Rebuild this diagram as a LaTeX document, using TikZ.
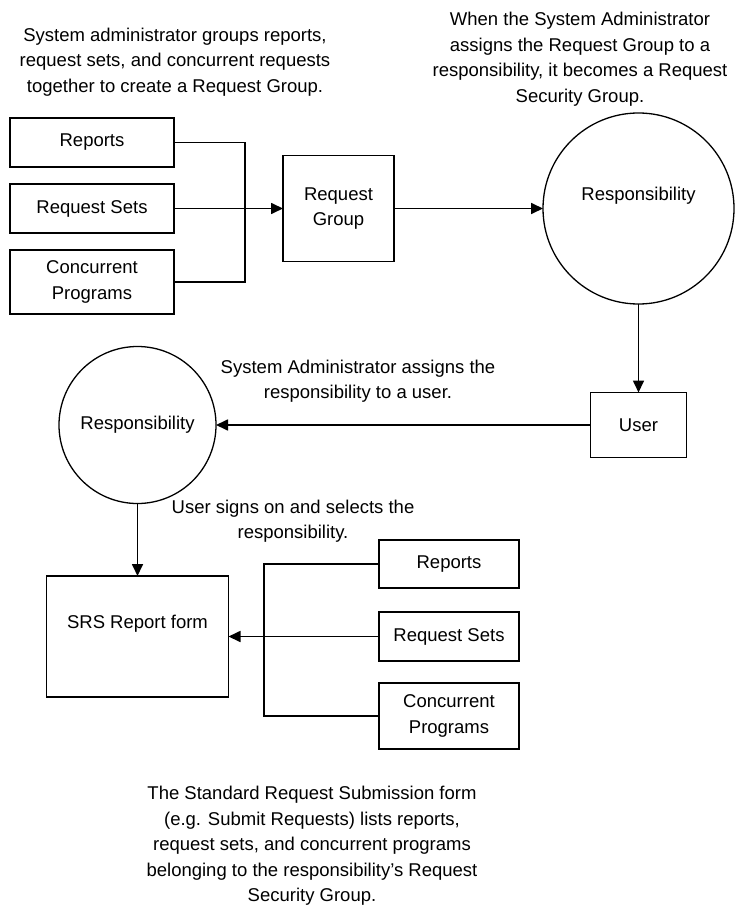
\documentclass[tikz,border=0pt]{standalone}
\usepackage{fontspec}
\setmainfont{Liberation Sans}
\usepackage{tikz}
\usetikzlibrary{positioning}
\usetikzlibrary{arrows.meta}

\begin{document}
\begin{tikzpicture}[x=1pt, y=-1pt, font=\fontsize{18.5}{25.5}\selectfont]

        \def\d{17pt}
        \def\h{24pt}

        % Looks of the boxes, circles, notes and arrows
        \tikzset{
            box/.style={draw, line width=1.7pt, inner sep=0pt, outer sep=0pt,
                minimum width=164pt, minimum height=49pt, align=center},
            smallbox/.style={box, minimum width=140pt},
            ring/.style={draw, circle, line width=1.3pt, inner sep=0pt,
                outer sep=0pt},
            note/.style={align=center, inner sep=0pt},
            arr/.style={-{Triangle[length=12pt, width=11pt]}}
        }

        \useasboundingbox (0,0) rectangle (738,909);

        % Scope with the top row: items grouped into a request group
        \begin{scope}
            \node[box] (rep1) at (92, 142.5) {Reports};
            \node[box] (set1) [below=\d of rep1] {Request Sets};
            \node[box, minimum height=64pt] (con1) [below=\d of set1]
            {Concurrent\\Programs};
            \coordinate (join1) at (245, 208.5);

            \node[box, minimum width=111pt, minimum height=106pt] (group)
            at (338.5, 208.5) {Request\\Group};
            \node[ring, minimum size=191pt, text depth=30pt] (resp1)
            at (638.5, 208.5) {Responsibility};
        \end{scope}

        % Scope with the middle and lower rows
        \begin{scope}
            \node[box, minimum width=96pt, minimum height=65pt] (user)
            at (638.5, 425) {User};
            \node[ring, minimum size=157pt] (resp2)
            at (137.5, 425) {Responsibility};
            \node[box, minimum width=182pt, minimum height=121pt,
                text depth=30pt] (srs) at (137.5, 636.5) {SRS Report form};

            \node[smallbox, minimum height=48pt] (rep2) at (449, 564)
            {Reports};
            \node[smallbox] (set2) [below=\h of rep2] {Request Sets};
            \node[smallbox, minimum height=66pt] (con2) [below=22pt of set2]
            {Concurrent\\Programs};
            \coordinate (join2) at (264, 636.5);
        \end{scope}

        % Notes
        \node[note] (noteGroup) at (175, 62)
        {System administrator groups reports,\\
         request sets, and concurrent requests\\
         together to create a Request Group.};
        \node[note] (noteSecurity) at (580, 59)
        {When the System Administrator\\
         assigns the Request Group to a\\
         responsibility, it becomes a Request\\
         Security Group.};
        \node[note] (noteAssign) at (358, 381)
        {System Administrator assigns the\\
         responsibility to a user.};
        \node[note] (noteSignOn) at (293, 521)
        {User signs on and selects the\\
         responsibility.};
        \node[note] (noteForm) at (312, 846)
        {The Standard Request Submission form\\
         (e.g. Submit Requests) lists reports,\\
         request sets, and concurrent programs\\
         belonging to the responsibility's Request\\
         Security Group.};

        \begin{scope}[line width=1.7pt]
            \draw (rep1.east) -| (join1) |- (con1.east);
            \draw[arr] (set1.east) -- (group.west);
            \draw[arr] (group.east) -- (resp1.west);
            \draw[arr] (resp1.south) -- (user.north);
            \draw[arr] (user.west) -- (resp2.east);
            \draw[arr] (resp2.south) -- (srs.north);
            \draw (rep2.west) -| (join2) |- (con2.west);
            \draw[arr] (set2.west) -- (srs.east);
        \end{scope}

\end{tikzpicture}
\end{document}
